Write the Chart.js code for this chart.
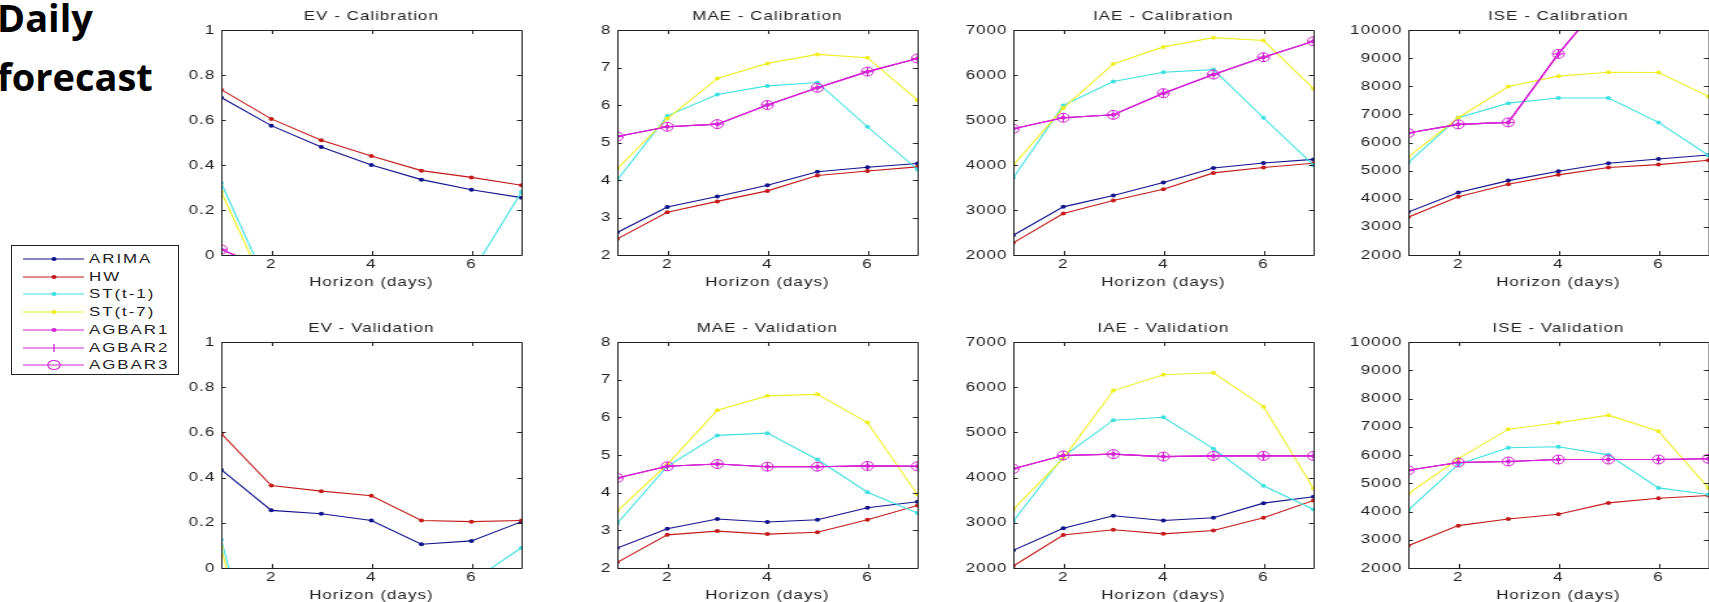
<!DOCTYPE html>
<html>
<head>
<meta charset="utf-8">
<title>Daily forecast</title>
<script src="https://cdn.jsdelivr.net/npm/chart.js@4.4.1/dist/chart.umd.min.js"></script>
<style>
  html, body { margin: 0; padding: 0; background: #fff; width: 1709px; height: 602px; overflow: hidden; }
  body { position: relative; }
  /* the original figure is a raster stretched sideways; mimic it */
  .panel { position: absolute; transform-origin: 0 0; transform: scaleX(1.3); }
  .heading { position: absolute; left: -3px; font: bold 38px 'Open Sans', sans-serif; line-height: 38px; color: #000; white-space: nowrap; }
  #legend { position: absolute; left: 11px; top: 245px; width: 166px; height: 128px; border: 1px solid #222; background: #fff; }
  .legend-row { position: absolute; left: 0; width: 166px; height: 16px; }
  .legend-row svg { position: absolute; left: 11px; top: 0; }
  .legend-row span { position: absolute; left: 77px; top: 0; transform-origin: 0 50%; transform: scaleX(1.3); font: 13px 'Liberation Sans', Arial, sans-serif; letter-spacing: 1.5px; line-height: 16px; color: #222; white-space: nowrap; }
</style>
</head>
<body>
<div class="heading" style="top:-2px">Daily</div>
<div class="heading" style="top:57px">forecast</div>
<div id="legend"></div>

<script>
/* Daily forecast — EV / MAE / IAE / ISE per horizon, calibration vs validation */

// ── Data ────────────────────────────────────────────────────────────────
const horizon = [1, 2, 3, 4, 5, 6, 7];
const xTicks = [2, 4, 6];

const evTicks = [0, 0.2, 0.4, 0.6, 0.8, 1];
const maeTicks = [2, 3, 4, 5, 6, 7, 8];
const iaeTicks = [2000, 3000, 4000, 5000, 6000, 7000];
const iseTicks = [2000, 3000, 4000, 5000, 6000, 7000, 8000, 9000, 10000];

const seriesNames = ['ARIMA', 'HW', 'ST(t-1)', 'ST(t-7)', 'AGBAR1', 'AGBAR2', 'AGBAR3'];

// EV - Calibration
const evCalArima = [0.70, 0.575, 0.48, 0.40, 0.335, 0.29, 0.255];
const evCalHw    = [0.735, 0.605, 0.51, 0.44, 0.375, 0.345, 0.31];
const evCalSt1   = [0.32, -0.17, -0.40, -0.45, -0.35, -0.08, 0.28];
const evCalSt7   = [0.28, -0.20, -0.55, -0.65, -0.70, -0.60, -0.30];
const evCalAgbar = [0.025, -0.07, -0.30, -0.50, -0.70, -0.90, -1.10];

// EV - Validation
const evValArima = [0.435, 0.255, 0.24, 0.21, 0.105, 0.12, 0.205];
const evValHw    = [0.595, 0.365, 0.34, 0.32, 0.21, 0.205, 0.21];
const evValSt1   = [0.125, -0.70, -0.90, -0.80, -0.50, -0.06, 0.09];
const evValSt7   = [0.09, -0.80, -1.20, -1.30, -1.30, -0.90, -0.30];
const evValAgbar = [-0.30, -0.40, -0.40, -0.40, -0.40, -0.40, -0.40];

// MAE - Calibration
const maeCalArima = [2.60, 3.28, 3.56, 3.86, 4.22, 4.34, 4.44];
const maeCalHw    = [2.43, 3.14, 3.43, 3.71, 4.12, 4.24, 4.35];
const maeCalSt1   = [4.00, 5.71, 6.28, 6.51, 6.60, 5.42, 4.28];
const maeCalSt7   = [4.30, 5.64, 6.71, 7.11, 7.35, 7.26, 6.13];
const maeCalAgbar = [5.16, 5.42, 5.49, 6.00, 6.46, 6.89, 7.24];

// MAE - Validation
const maeValArima = [2.53, 3.04, 3.30, 3.22, 3.28, 3.60, 3.76];
const maeValHw    = [2.15, 2.88, 2.98, 2.90, 2.95, 3.28, 3.66];
const maeValSt1   = [3.18, 4.70, 5.52, 5.58, 4.88, 4.01, 3.46];
const maeValSt7   = [3.51, 4.75, 6.19, 6.57, 6.61, 5.86, 3.95];
const maeValAgbar = [4.39, 4.70, 4.76, 4.69, 4.69, 4.71, 4.70];

// IAE - Calibration
const iaeCalArima = [2440, 3070, 3320, 3610, 3935, 4045, 4125];
const iaeCalHw    = [2270, 2920, 3210, 3460, 3825, 3945, 4040];
const iaeCalSt1   = [3715, 5325, 5855, 6060, 6120, 5050, 3995];
const iaeCalSt7   = [3995, 5265, 6245, 6625, 6830, 6765, 5695];
const iaeCalAgbar = [4805, 5050, 5115, 5595, 6010, 6395, 6750];

// IAE - Validation
const iaeValArima = [2390, 2880, 3155, 3050, 3110, 3435, 3575];
const iaeValHw    = [2045, 2730, 2845, 2755, 2830, 3110, 3495];
const iaeValSt1   = [3035, 4465, 5270, 5335, 4640, 3820, 3295];
const iaeValSt7   = [3295, 4425, 5925, 6275, 6320, 5570, 3760];
const iaeValAgbar = [4195, 4490, 4520, 4465, 4480, 4480, 4480];

// ISE - Calibration
const iseCalArima = [3525, 4220, 4645, 4980, 5260, 5415, 5555];
const iseCalHw    = [3345, 4070, 4515, 4850, 5110, 5215, 5370];
const iseCalSt1   = [5285, 6880, 7400, 7580, 7580, 6715, 5545];
const iseCalSt7   = [5485, 6880, 7990, 8360, 8500, 8490, 7640];
const iseCalAgbar = [6335, 6645, 6715, 9150, 11280, 12500, 13500];

// ISE - Validation (no ARIMA curve shown in this panel)
const iseValArima = [null, null, null, null, null, null, null];
const iseValHw    = [2790, 3500, 3735, 3905, 4305, 4470, 4565];
const iseValSt1   = [4045, 5665, 6255, 6290, 6005, 4835, 4600];
const iseValSt7   = [4625, 5865, 6915, 7140, 7410, 6845, 4830];
const iseValAgbar = [5460, 5735, 5770, 5840, 5840, 5840, 5865];

// ── Styling ─────────────────────────────────────────────────────────────
const INK = '#222';
const FONT = "'Liberation Sans', Arial, sans-serif";
const LETTER_SPACING = '0.8px';
const STRETCH = 1.3;          // must match .panel scaleX
const Y_AXIS_W = 54;          // canvas px, before stretch
const PLOT_W = 231;
const RIGHT_PAD = 8;
const TOP_BLOCK = 40;
const BOTTOM_BLOCK = 48;

const C_ARIMA = '#12128c';
const C_HW = '#c41a1a';
const C_ST1 = '#3fe0e0';
const C_ST7 = '#eeee22';
const C_AGBAR = '#d424d4';

Chart.defaults.font.family = FONT;
Chart.defaults.font.size = 13;
Chart.defaults.color = INK;

// MATLAB-style axes: closed box with inward ticks on all sides
const matlabBox = {
    id: 'matlabBox',
    beforeUpdate(chart) { chart.ctx.letterSpacing = LETTER_SPACING; },
    beforeLayout(chart) { chart.ctx.letterSpacing = LETTER_SPACING; },
    beforeDraw(chart) { chart.ctx.letterSpacing = LETTER_SPACING; },
    afterDraw(chart) {
        const { ctx, chartArea: a, scales } = chart;
        ctx.save();
        ctx.strokeStyle = INK;
        ctx.lineWidth = 1;
        ctx.beginPath();
        ctx.rect(a.left + 0.5, a.top + 0.5, a.right - a.left, a.bottom - a.top);
        scales.x.ticks.forEach(t => {
            const px = Math.round(scales.x.getPixelForValue(t.value)) + 0.5;
            ctx.moveTo(px, a.bottom); ctx.lineTo(px, a.bottom - 4);
            ctx.moveTo(px, a.top); ctx.lineTo(px, a.top + 4);
        });
        scales.y.ticks.forEach(t => {
            const py = Math.round(scales.y.getPixelForValue(t.value)) + 0.5;
            ctx.moveTo(a.left, py); ctx.lineTo(a.left + 3.5, py);
            ctx.moveTo(a.right, py); ctx.lineTo(a.right - 3.5, py);
        });
        ctx.stroke();
        ctx.restore();
    },
};
Chart.register(matlabBox);

function toPoints(values) {
    return values.map((v, i) => ({ x: horizon[i], y: v }));
}

function buildDatasets(arima, hw, st1, st7, agbar) {
    const line = (label, values, color, extra) => Object.assign({
        label,
        data: toPoints(values),
        borderColor: color,
        backgroundColor: color,
        borderWidth: 1.1,
        tension: 0,
        pointStyle: 'circle',
        pointRadius: 2,
        pointBorderWidth: 0,
        pointBackgroundColor: color,
        pointBorderColor: color,
    }, extra || {});

    const sets = [
        line(seriesNames[0], arima, C_ARIMA),
        line(seriesNames[1], hw, C_HW),
        line(seriesNames[2], st1, C_ST1),
        line(seriesNames[3], st7, C_ST7),
        line(seriesNames[4], agbar, C_AGBAR),
        line(seriesNames[5], agbar, C_AGBAR, { pointStyle: 'cross', pointRadius: 4.5, pointBorderWidth: 1 }),
        line(seriesNames[6], agbar, C_AGBAR, { pointRadius: 4.5, pointBorderWidth: 1, pointBackgroundColor: 'rgba(0,0,0,0)' }),
    ];
    // later series sit on top, as in the original plot
    sets.forEach((s, i) => { s.order = sets.length - i; });
    return sets;
}

function makePanel(left, top, height, title, yTicks, series) {
    const canvas = document.createElement('canvas');
    canvas.className = 'panel';
    canvas.width = Y_AXIS_W + PLOT_W + RIGHT_PAD;
    canvas.height = TOP_BLOCK + height + BOTTOM_BLOCK;
    canvas.style.left = (left - Y_AXIS_W * STRETCH) + 'px';
    canvas.style.top = (top - TOP_BLOCK) + 'px';
    document.body.appendChild(canvas);

    new Chart(canvas, {
        type: 'line',
        data: { datasets: buildDatasets(...series) },
        options: {
            responsive: false,
            animation: false,
            events: [],
            layout: { padding: { left: 0, right: RIGHT_PAD, top: 0, bottom: 0 } },
            plugins: {
                legend: { display: false },
                tooltip: { enabled: false },
                title: {
                    display: true,
                    text: title,
                    fullSize: false,
                    color: INK,
                    font: { size: 13, weight: 'normal' },
                    padding: { top: 18.2, bottom: 6.2 },
                },
            },
            scales: {
                x: {
                    type: 'linear',
                    min: horizon[0],
                    max: horizon[horizon.length - 1],
                    grid: { display: false, drawTicks: false },
                    border: { display: false },
                    afterBuildTicks: s => { s.ticks = xTicks.map(v => ({ value: v })); },
                    afterFit: s => { s.height = BOTTOM_BLOCK; },
                    ticks: { color: INK, padding: 2, maxRotation: 0, autoSkip: false, callback: v => String(v) },
                    title: { display: true, text: 'Horizon (days)', color: INK, font: { size: 13 }, padding: { top: 0, bottom: 13.2 } },
                },
                y: {
                    type: 'linear',
                    min: yTicks[0],
                    max: yTicks[yTicks.length - 1],
                    grid: { display: false, drawTicks: false },
                    border: { display: false },
                    afterBuildTicks: s => { s.ticks = yTicks.map(v => ({ value: v })); },
                    afterFit: s => { s.width = Y_AXIS_W; },
                    ticks: { color: INK, padding: 4.5, autoSkip: false, callback: v => String(v) },
                },
            },
        },
    });
}

// ── Panels ──────────────────────────────────────────────────────────────
makePanel(221, 30, 225, 'EV - Calibration', evTicks, [evCalArima, evCalHw, evCalSt1, evCalSt7, evCalAgbar]);
makePanel(617, 30, 225, 'MAE - Calibration', maeTicks, [maeCalArima, maeCalHw, maeCalSt1, maeCalSt7, maeCalAgbar]);
makePanel(1013, 30, 225, 'IAE - Calibration', iaeTicks, [iaeCalArima, iaeCalHw, iaeCalSt1, iaeCalSt7, iaeCalAgbar]);
makePanel(1408, 30, 225, 'ISE - Calibration', iseTicks, [iseCalArima, iseCalHw, iseCalSt1, iseCalSt7, iseCalAgbar]);

makePanel(221, 342, 226, 'EV - Validation', evTicks, [evValArima, evValHw, evValSt1, evValSt7, evValAgbar]);
makePanel(617, 342, 226, 'MAE - Validation', maeTicks, [maeValArima, maeValHw, maeValSt1, maeValSt7, maeValAgbar]);
makePanel(1013, 342, 226, 'IAE - Validation', iaeTicks, [iaeValArima, iaeValHw, iaeValSt1, iaeValSt7, iaeValAgbar]);
makePanel(1408, 342, 226, 'ISE - Validation', iseTicks, [iseValArima, iseValHw, iseValSt1, iseValSt7, iseValAgbar]);

// ── Legend ──────────────────────────────────────────────────────────────
function renderLegend() {
    const box = document.getElementById('legend');
    const colors = [C_ARIMA, C_HW, C_ST1, C_ST7, C_AGBAR, C_AGBAR, C_AGBAR];
    seriesNames.forEach((name, i) => {
        const c = colors[i];
        let marker = `<ellipse cx="31" cy="8" rx="2.6" ry="2" fill="${c}"/>`;
        if (i === 5) marker = `<line x1="31" y1="4" x2="31" y2="12" stroke="${c}" stroke-width="1.3"/>`;
        if (i === 6) marker = `<ellipse cx="31" cy="8" rx="6.2" ry="4.5" fill="none" stroke="${c}" stroke-width="1.2"/>`;
        const row = document.createElement('div');
        row.className = 'legend-row';
        row.style.top = (5 + i * 17.7) + 'px';
        row.innerHTML = `
            <svg width="62" height="16"><line x1="0" y1="8" x2="61" y2="8" stroke="${c}" stroke-width="1.2"/>${marker}</svg>
            <span>${name}</span>`;
        box.appendChild(row);
    });
}
renderLegend();
</script>
</body>
</html>
